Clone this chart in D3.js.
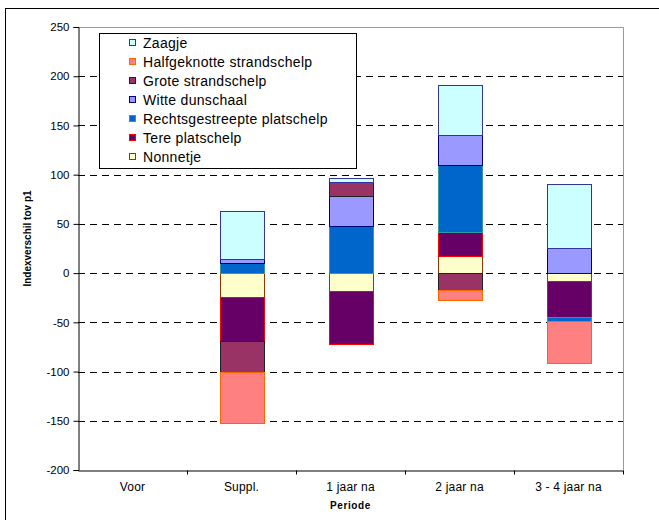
<!DOCTYPE html>
<html>
<head>
<meta charset="utf-8">
<script src="https://cdn.jsdelivr.net/npm/d3@7"></script>
<style>
  html, body { margin: 0; padding: 0; background: #fff; }
  svg { display: block; font-family: Arial, "Liberation Sans", sans-serif; }
</style>
</head>
<body>
<svg id="chart" width="659" height="520"></svg>
<script>
// ---- data ----
const categories = ["Voor", "Suppl.", "1 jaar na", "2 jaar na", "3 - 4 jaar na"];
const seriesNames = ["Nonnetje", "Tere platschelp", "Rechtsgestreepte platschelp", "Witte dunschaal", "Grote strandschelp", "Halfgeknotte strandschelp", "Zaagje"];
const nonnetje      = [0, -24,   -18,  17,  -8];
const tere          = [0, -44.5, -54,  25,  -37];
const rechts        = [0, 10.5,  48,   68,  -3.5];
const witte         = [0, 4,     30,   30,  26];
const grote         = [0, -32,   15,   -17, 0];
const halfgeknotte  = [0, -51.5, 0,    -10, -42.5];
const zaagje        = [0, 48.5,  3.5,  51,  65];
const yTicks = [-200, -150, -100, -50, 0, 50, 100, 150, 200, 250];
const yTitle = "Indexverschil tov p1";
const xTitle = "Periode";

const fills   = ["#FFFFCC", "#660066", "#0066CC", "#9999FF", "#993366", "#FF8080", "#CCFFFF"];
const strokes = ["#993300", "#FF0000", "#339999", "#000080", "#222222", "#FF6600", "#333399"];

const valuesBySeries = [nonnetje, tere, rechts, witte, grote, halfgeknotte, zaagje];
const table = categories.map((c, i) => {
  const row = { cat: c };
  seriesNames.forEach((s, k) => { row[s] = valuesBySeries[k][i]; });
  return row;
});

// ---- layout ----
const svg = d3.select("#chart");
const L = 78, R = 623, T = 27, B = 470;

const x = d3.scaleBand().domain(categories).range([L, R]).paddingInner(0.6).paddingOuter(0.3);
const xOuter = d3.scaleBand().domain(categories).range([L, R]);
const y = d3.scaleLinear().domain([-200, 250]).range([B, T]);

// outer border
svg.append("rect").attr("x", 5.5).attr("y", 8.5).attr("width", 700).attr("height", 600)
  .attr("fill", "none").attr("stroke", "#000").attr("stroke-width", 1);

// plot area border (gray top/right)
svg.append("path")
  .attr("d", `M${L},${T + 0.5}H${R + 0.5}V${B}`)
  .attr("fill", "none").attr("stroke", "#999").attr("stroke-width", 1);

// gridlines
svg.append("g").selectAll("line")
  .data(yTicks.filter(d => d !== -200 && d !== 250))
  .join("line")
  .attr("x1", L).attr("x2", R)
  .attr("y1", d => Math.round(y(d)) + 0.5).attr("y2", d => Math.round(y(d)) + 0.5)
  .attr("stroke", "#000").attr("stroke-width", 1).attr("stroke-dasharray", "7,5");

// stacked bars
const stack = d3.stack().keys(seriesNames).offset(d3.stackOffsetDiverging);
const layers = stack(table);

const gBars = svg.append("g");
layers.forEach((layer, k) => {
  gBars.append("g").selectAll("rect")
    .data(layer.filter(d => d[1] - d[0] !== 0))
    .join("rect")
    .attr("x", d => Math.round(x(d.data.cat)) + 0.5)
    .attr("width", Math.round(x.bandwidth()))
    .attr("y", d => Math.round(y(d[1])) + 0.5)
    .attr("height", d => Math.round(y(d[0])) - Math.round(y(d[1])))
    .attr("fill", fills[k])
    .attr("stroke", strokes[k])
    .attr("stroke-width", 1);
});

// y axis
const yAxis = d3.axisLeft(y).tickValues(yTicks).tickSize(5).tickPadding(4).tickFormat(d => String(d));
const gy = svg.append("g").attr("transform", `translate(${L + 0.5},0)`).call(yAxis);
gy.select(".domain").attr("stroke", "#000");
gy.selectAll(".tick line").attr("stroke", "#000");
gy.selectAll(".tick text").attr("font-size", 11.5).attr("fill", "#000")
  .attr("font-family", "Arial, 'Liberation Sans', sans-serif");

// x axis
const xAxis = d3.axisBottom(xOuter).tickSize(0).tickPadding(12);
const gx = svg.append("g").attr("transform", `translate(0,${B + 0.5})`).call(xAxis);
gx.select(".domain").attr("stroke", "#000");
gx.selectAll(".tick text").attr("font-size", 12).attr("fill", "#000")
  .attr("letter-spacing", 0.2)
  .attr("font-family", "Arial, 'Liberation Sans', sans-serif");
// category boundary ticks
gx.append("g").selectAll("line")
  .data(categories.slice(1).concat(["__end"]))
  .join("line")
  .attr("x1", d => d === "__end" ? R + 0.5 : Math.round(xOuter(d)) + 0.5)
  .attr("x2", d => d === "__end" ? R + 0.5 : Math.round(xOuter(d)) + 0.5)
  .attr("y1", 0).attr("y2", 4).attr("stroke", "#000");

// axis titles
svg.append("text")
  .attr("transform", `translate(31,${(T + B) / 2 - 10}) rotate(-90)`)
  .attr("text-anchor", "middle")
  .attr("font-size", 10).attr("font-weight", "bold")
  .text(yTitle);
svg.append("text")
  .attr("x", (L + R) / 2).attr("y", 509)
  .attr("text-anchor", "middle")
  .attr("font-size", 10).attr("font-weight", "bold")
  .attr("letter-spacing", 0.6)
  .text(xTitle);

// legend
const lg = svg.append("g");
lg.append("rect").attr("x", 99.5).attr("y", 33.5).attr("width", 257).attr("height", 135)
  .attr("fill", "#fff").attr("stroke", "#000").attr("stroke-width", 1);
const legendOrder = seriesNames.map((s, k) => k).reverse();
legendOrder.forEach((k, i) => {
  const cy = 43 + i * 19;
  lg.append("rect").attr("x", 129.5).attr("y", cy - 3.5).attr("width", 6).attr("height", 6)
    .attr("fill", fills[k]).attr("stroke", strokes[k]).attr("stroke-width", 1);
  lg.append("text").attr("x", 143).attr("y", cy + 5)
    .attr("font-size", 14).attr("fill", "#000")
    .attr("letter-spacing", 0.3)
    .text(seriesNames[k]);
});
</script>
</body>
</html>
